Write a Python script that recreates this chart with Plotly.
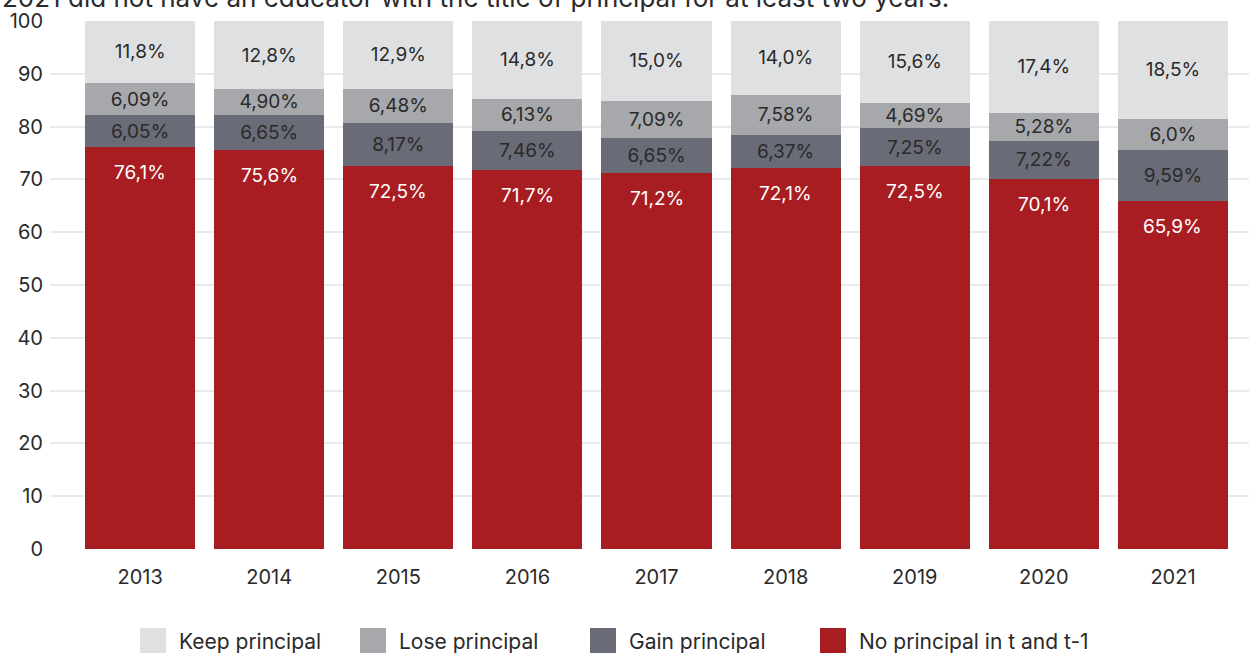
import plotly.graph_objects as go

years = ["2013", "2014", "2015", "2016", "2017", "2018", "2019", "2020", "2021"]

no_principal = [76.1, 75.6, 72.5, 71.7, 71.2, 72.1, 72.5, 70.1, 65.9]
gain_principal = [6.05, 6.65, 8.17, 7.46, 6.65, 6.37, 7.25, 7.22, 9.59]
lose_principal = [6.09, 4.90, 6.48, 6.13, 7.09, 7.58, 4.69, 5.28, 6.0]
keep_principal = [11.8, 12.8, 12.9, 14.8, 15.0, 14.0, 15.6, 17.4, 18.5]

no_principal_lbl = ["76,1%", "75,6%", "72,5%", "71,7%", "71,2%", "72,1%", "72,5%", "70,1%", "65,9%"]
gain_principal_lbl = ["6,05%", "6,65%", "8,17%", "7,46%", "6,65%", "6,37%", "7,25%", "7,22%", "9,59%"]
lose_principal_lbl = ["6,09%", "4,90%", "6,48%", "6,13%", "7,09%", "7,58%", "4,69%", "5,28%", "6,0%"]
keep_principal_lbl = ["11,8%", "12,8%", "12,9%", "14,8%", "15,0%", "14,0%", "15,6%", "17,4%", "18,5%"]

series_names = ["Keep principal", "Lose principal", "Gain principal", "No principal in t and t-1"]
series_colors = ["#DFE0E2", "#A6A8AB", "#696B76", "#A81D22"]

FONT = "Inter"
TEXT_DARK = "#2A2A2A"
FS = 19

fig = go.Figure()

# stacked from the bottom: red, dark grey, mid grey, light grey
fig.add_trace(go.Bar(x=years, y=no_principal, name=series_names[3],
                     marker=dict(color=series_colors[3], line=dict(width=0)),
                     textposition="none", hoverinfo="y"))
for vals, lbl, idx in [(gain_principal, gain_principal_lbl, 2),
                       (lose_principal, lose_principal_lbl, 1),
                       (keep_principal, keep_principal_lbl, 0)]:
    fig.add_trace(go.Bar(x=years, y=vals, name=series_names[idx], text=lbl,
                         textposition="inside", insidetextanchor="middle",
                         textangle=0,
                         textfont=dict(family=FONT, size=FS, color=TEXT_DARK),
                         marker=dict(color=series_colors[idx], line=dict(width=0))))

annotations = []
# white value labels near the top of the red segments (x given as category index)
for i, (v, t) in enumerate(zip(no_principal, no_principal_lbl)):
    annotations.append(dict(x=i, y=v, xref="x", yref="y", text=t, showarrow=False,
                            yanchor="top", yshift=-12,
                            font=dict(family=FONT, size=FS, color="white")))

# caption line running off the top edge
annotations.append(dict(x=-50 / 1199, y=1.0114, xref="paper", yref="paper",
                        xanchor="left", yanchor="bottom", showarrow=False,
                        text="2021 did not have an educator with the title of principal for at least two years.",
                        font=dict(family=FONT, size=26, color=TEXT_DARK)))

# legend row: large square swatches with labels
shapes = []
legend_x = [140, 360, 590, 820]
for i, (name, col) in enumerate(zip(series_names, series_colors)):
    x0 = (legend_x[i] - 50) / 1199
    x1 = (legend_x[i] + 26 - 50) / 1199
    y_top = (549 - 628) / 528
    y_bot = (549 - 656) / 528
    shapes.append(dict(type="rect", xref="paper", yref="paper", x0=x0, x1=x1,
                       y0=y_bot, y1=y_top, fillcolor=col, line=dict(width=0), layer="above"))
    annotations.append(dict(x=(legend_x[i] + 37 - 50) / 1199, y=(549 - 641) / 528,
                            xref="paper", yref="paper", xanchor="left", yanchor="middle",
                            showarrow=False, text=name,
                            font=dict(family=FONT, size=21, color=TEXT_DARK)))

fig.update_layout(
    width=1249, height=653,
    margin=dict(l=50, r=0, t=21, b=104),
    barmode="stack", bargap=0.147,
    plot_bgcolor="white", paper_bgcolor="white",
    showlegend=False,
    font=dict(family=FONT, size=FS, color=TEXT_DARK),
    uniformtext=dict(minsize=FS, mode="show"),
    annotations=annotations, shapes=shapes,
)
fig.update_xaxes(range=[-0.698, 8.589], showgrid=False, showline=False, ticks="",
                 ticklabelstandoff=14, tickfont=dict(family=FONT, size=FS + 1, color=TEXT_DARK))
fig.update_yaxes(range=[0, 100], dtick=10, showgrid=True, gridcolor="#EAEAEA", gridwidth=1.5,
                 zeroline=False, showline=False, ticks="", ticklabelstandoff=6,
                 tickfont=dict(family=FONT, size=FS + 1, color=TEXT_DARK))

fig.write_html("out.html")
